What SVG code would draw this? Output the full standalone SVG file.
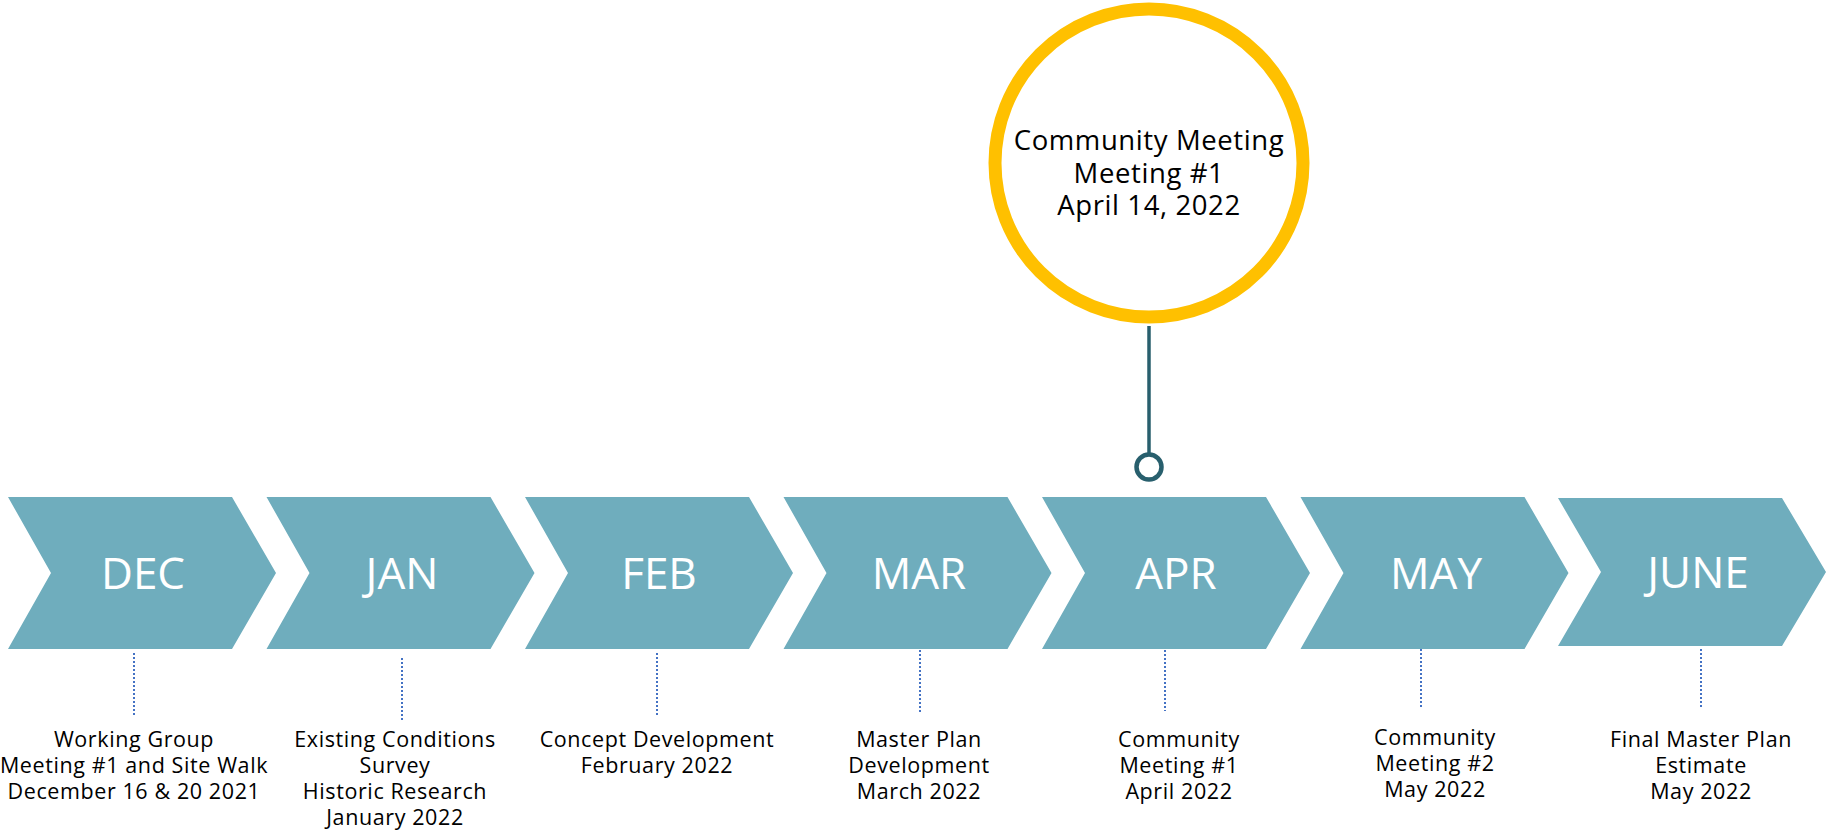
<svg xmlns="http://www.w3.org/2000/svg" width="1826" height="831" viewBox="0 0 1826 831">
<style>
.chev{fill:#6FADBD}
.mon{font-family:"Open Sans","Liberation Sans",sans-serif;font-size:44px;fill:#ffffff;text-anchor:middle}
.lbl{font-family:"Open Sans","Liberation Sans",sans-serif;font-size:21.5px;letter-spacing:0.6px;fill:#000000;text-anchor:middle}
.ctext{font-family:"Open Sans","Liberation Sans",sans-serif;font-size:27.5px;letter-spacing:0.6px;fill:#000000;text-anchor:middle}
.dot{stroke:#4472C4;stroke-width:2;stroke-dasharray:2 2;fill:none}
</style>
<defs>
<polygon id="chevron" points="0,0 224,0 268,76 224,152 0,152 43,76"/>
</defs>
<rect width="1826" height="831" fill="#ffffff"/>

<g id="connectors">
<line class="dot" x1="134" y1="653" x2="134" y2="716"/>
<line class="dot" x1="402" y1="658" x2="402" y2="720"/>
<line class="dot" x1="657" y1="653" x2="657" y2="716"/>
<line class="dot" x1="920" y1="650" x2="920" y2="713"/>
<line class="dot" x1="1165" y1="650" x2="1165" y2="711"/>
<line class="dot" x1="1421" y1="649" x2="1421" y2="709"/>
<line class="dot" x1="1701" y1="649" x2="1701" y2="709"/>
<line x1="1149" y1="326" x2="1149" y2="454" stroke="#285F6D" stroke-width="3.5"/>
<circle cx="1149" cy="467" r="12.5" fill="#ffffff" stroke="#285F6D" stroke-width="4.5"/>
</g>

<g id="dec">
<use href="#chevron" class="chev" x="8" y="497"/>
<text class="mon" x="143" y="589">DEC</text>
<text class="lbl" x="134" y="747">Working Group</text>
<text class="lbl" x="134" y="773">Meeting #1 and Site Walk</text>
<text class="lbl" x="134" y="799">December 16 &amp; 20 2021</text>
</g>
<g id="jan">
<use href="#chevron" class="chev" x="266.5" y="497"/>
<text class="mon" x="402" y="589">JAN</text>
<text class="lbl" x="395" y="747">Existing Conditions</text>
<text class="lbl" x="395" y="773">Survey</text>
<text class="lbl" x="395" y="799">Historic Research</text>
<text class="lbl" x="395" y="825">January 2022</text>
</g>
<g id="feb">
<use href="#chevron" class="chev" x="525" y="497"/>
<text class="mon" x="659" y="589">FEB</text>
<text class="lbl" x="657" y="747">Concept Development</text>
<text class="lbl" x="657" y="773">February 2022</text>
</g>
<g id="mar">
<use href="#chevron" class="chev" x="783.5" y="497"/>
<text class="mon" x="919" y="589">MAR</text>
<text class="lbl" x="919" y="747">Master Plan</text>
<text class="lbl" x="919" y="773">Development</text>
<text class="lbl" x="919" y="799">March 2022</text>
</g>
<g id="apr">
<use href="#chevron" class="chev" x="1042" y="497"/>
<text class="mon" x="1176" y="589">APR</text>
<text class="lbl" x="1179" y="747">Community</text>
<text class="lbl" x="1179" y="773">Meeting #1</text>
<text class="lbl" x="1179" y="799">April 2022</text>
</g>
<g id="may">
<use href="#chevron" class="chev" x="1300.5" y="497"/>
<text class="mon" x="1436" y="589">MAY</text>
<text class="lbl" x="1435" y="745">Community</text>
<text class="lbl" x="1435" y="771">Meeting #2</text>
<text class="lbl" x="1435" y="797">May 2022</text>
</g>
<g id="june">
<polygon class="chev" points="1558,498 1782,498 1826,572 1782,646 1558,646 1601,572"/>
<text class="mon" x="1698" y="588">JUNE</text>
<text class="lbl" x="1701" y="747">Final Master Plan</text>
<text class="lbl" x="1701" y="773">Estimate</text>
<text class="lbl" x="1701" y="799">May 2022</text>
</g>

<g id="meeting-circle">
<circle cx="1149" cy="163" r="154" fill="#ffffff" stroke="#FFC000" stroke-width="13"/>
<text class="ctext" x="1149" y="150">Community Meeting</text>
<text class="ctext" x="1149" y="183">Meeting #1</text>
<text class="ctext" x="1149" y="215">April 14, 2022</text>
</g>
</svg>
